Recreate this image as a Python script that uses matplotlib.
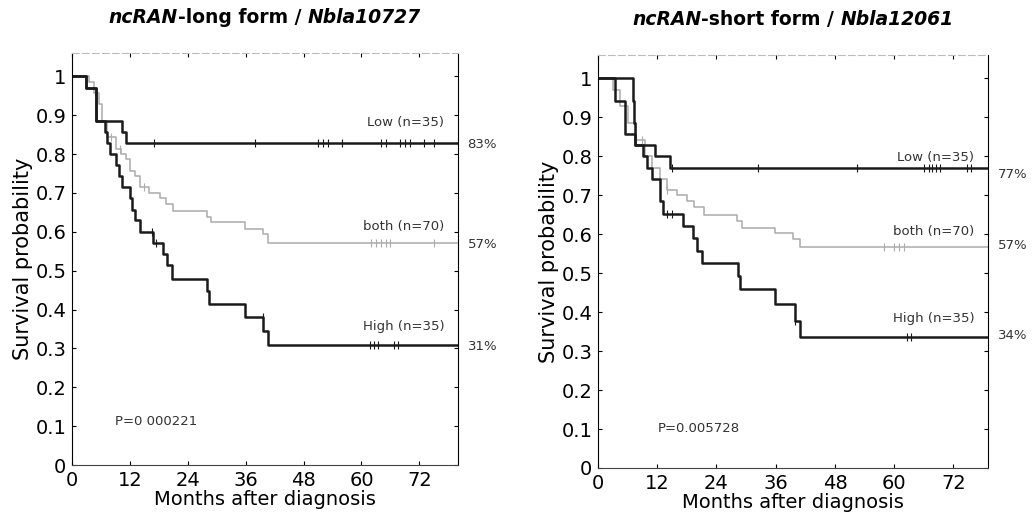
## Kaplan-Meier survival curves for ncRAN long / short form
import numpy as np
import matplotlib.pyplot as plt
from matplotlib.offsetbox import TextArea, HPacker, AnchoredOffsetbox

plt.rcParams['font.family'] = ['DejaVu Sans']

## Data (months, survival)
# left panel: ncRAN-long form
long_low_t = [0, 3, 5, 10.3, 11.3]
long_low_s = [1, 0.971, 0.886, 0.857, 0.829]
long_both_t = [0, 3.5, 4.5, 5.5, 6.2, 7.2, 9.2, 10.2, 11.2, 12, 13, 14, 16, 18.2, 19.5, 21, 27.9, 28.9, 35.8, 39.5, 40.6]
long_both_s = [1, 0.986, 0.957, 0.929, 0.886, 0.843, 0.814, 0.80, 0.786, 0.757, 0.743, 0.714, 0.70, 0.686, 0.671, 0.653, 0.639, 0.624, 0.606, 0.593, 0.571]
long_high_t = [0, 3, 5, 6.8, 7.3, 7.8, 9.2, 9.7, 10.3, 12, 12.5, 13, 14.1, 16.8, 18.9, 19.8, 20.8, 28, 28.5, 35.8, 39.6, 40.6]
long_high_s = [1, 0.971, 0.886, 0.857, 0.829, 0.80, 0.771, 0.743, 0.714, 0.686, 0.657, 0.629, 0.60, 0.571, 0.543, 0.514, 0.479, 0.447, 0.415, 0.382, 0.344, 0.309]
long_low_cens = [17, 38, 51, 52, 53, 56, 64, 65, 68, 69, 70, 73, 75]
long_both_cens = [8, 10, 15, 62, 63, 64, 65, 66, 75]
long_high_cens = [16.5, 17.5, 39.5, 61.7, 62.5, 63.5, 66.8, 67.5]

# right panel: ncRAN-short form
short_low_t = [0, 3.4, 5.5, 7.5, 11.6, 14.6]
short_low_s = [1, 0.943, 0.857, 0.829, 0.80, 0.771]
short_both_t = [0, 3, 4.5, 6, 7.8, 9.5, 10.9, 12.5, 13.9, 16, 18, 19.5, 21.4, 28.1, 29.1, 35.9, 39.6, 41]
short_both_s = [1, 0.971, 0.929, 0.886, 0.843, 0.80, 0.771, 0.743, 0.714, 0.70, 0.686, 0.671, 0.65, 0.633, 0.617, 0.604, 0.587, 0.567]
short_high_t = [0, 7.1, 7.4, 7.6, 9.1, 10, 10.9, 12.6, 13.2, 17.2, 19.2, 20, 21, 28.3, 28.8, 35.9, 40, 41]
short_high_s = [1, 0.943, 0.886, 0.829, 0.80, 0.771, 0.743, 0.686, 0.653, 0.621, 0.591, 0.557, 0.527, 0.493, 0.459, 0.422, 0.378, 0.337]
short_low_cens = [15, 32.5, 52.5, 66, 67, 67.7, 68.5, 69.3, 74.8, 75.5]
short_both_cens = [9, 14, 58, 60, 61, 62]
short_high_cens = [14, 15, 40, 62.6, 63.5]

xticks = [0, 12, 24, 36, 48, 60, 72]
yticks = [0, 0.1, 0.2, 0.3, 0.4, 0.5, 0.6, 0.7, 0.8, 0.9, 1]
ytick_labels = ['0', '0.1', '0.2', '0.3', '0.4', '0.5', '0.6', '0.7', '0.8', '0.9', '1']

panels = [
    {
        'pos': [0.0696, 0.0953, 0.3733, 0.8017], 'xmax': 80,
        'title': ('ncRAN', '-long form / ', 'Nbla10727'),
        'curves': [(long_both_t, long_both_s, long_both_cens, '#ababab', 1.1),
                   (long_high_t, long_high_s, long_high_cens, '#1a1a1a', 1.8),
                   (long_low_t, long_low_s, long_low_cens, '#1a1a1a', 1.8)],
        'labels': [('Low (n=35)', 0.88), ('both (n=70)', 0.614), ('High (n=35)', 0.356)],
        'pct': [('83%', 0.825), ('57%', 0.567), ('31%', 0.305)],
        'p': ('P=0 000221', 8.9, 0.112),
    },
    {
        'pos': [0.5783, 0.0895, 0.3772, 0.8035], 'xmax': 79,
        'title': ('ncRAN', '-short form / ', 'Nbla12061'),
        'curves': [(short_both_t, short_both_s, short_both_cens, '#ababab', 1.1),
                   (short_high_t, short_high_s, short_high_cens, '#1a1a1a', 1.8),
                   (short_low_t, short_low_s, short_low_cens, '#1a1a1a', 1.8)],
        'labels': [('Low (n=35)', 0.797), ('both (n=70)', 0.608), ('High (n=35)', 0.383)],
        'pct': [('77%', 0.753), ('57%', 0.57), ('34%', 0.34)],
        'p': ('P=0.005728', 12.2, 0.102),
    },
]

fig = plt.figure(figsize=(10.34, 5.14), dpi=100)

for pnl in panels:
    ax = fig.add_axes(pnl['pos'])
    xmax = pnl['xmax']

    for t, s, cens, color, lw in pnl['curves']:
        t_ext = list(t) + [xmax]
        s_ext = list(s) + [s[-1]]
        ax.step(t_ext, s_ext, where='post', color=color, lw=lw)
        # censor marks sit on the curve
        idx = np.searchsorted(t, cens, side='right') - 1
        ax.plot(cens, np.array(s)[idx], linestyle='none', marker='|',
                color=color, markersize=6, markeredgewidth=0.8)

    ax.set_xlim(0, xmax)
    ax.set_ylim(0, 1.06)
    ax.set_xticks(xticks)
    ax.set_yticks(yticks)
    ax.set_yticklabels(ytick_labels)
    ax.tick_params(direction='in', length=3, labelsize=14, top=True, right=True)
    ax.tick_params(axis='x', pad=4)
    ax.tick_params(axis='y', pad=4)
    ax.spines['top'].set_color('#bbbbbb')
    ax.spines['top'].set_linestyle((0, (6, 3)))
    ax.spines['bottom'].set_color('#444444')
    ax.set_xlabel('Months after diagnosis', fontsize=14, labelpad=0)
    ax.set_ylabel('Survival probability', fontsize=15, labelpad=2)

    for txt, y in pnl['labels']:
        ax.text(xmax * 0.965, y, txt, ha='right', va='center', fontsize=9.5, color='#333333')
    for txt, y in pnl['pct']:
        ax.text(xmax + 2, y, txt, ha='left', va='center', fontsize=9.5, color='#333333', clip_on=False)
    ptxt, px, py = pnl['p']
    ax.text(px, py, ptxt, ha='left', va='center', fontsize=9.5, color='#333333')

    ## title: italic gene names, plain bold middle part
    a, b, c = pnl['title']
    parts = [TextArea(a, textprops=dict(fontsize=13.5, fontweight='bold', style='italic')),
             TextArea(b, textprops=dict(fontsize=13.5, fontweight='bold')),
             TextArea(c, textprops=dict(fontsize=13.5, fontweight='bold', style='italic'))]
    box = HPacker(children=parts, align='baseline', pad=0, sep=0)
    anchored = AnchoredOffsetbox(loc='center', child=box, pad=0, frameon=False,
                                 bbox_to_anchor=(0.5, 1.085), bbox_transform=ax.transAxes,
                                 borderpad=0)
    ax.add_artist(anchored)

plt.savefig('out.png', dpi=100)
plt.close()
